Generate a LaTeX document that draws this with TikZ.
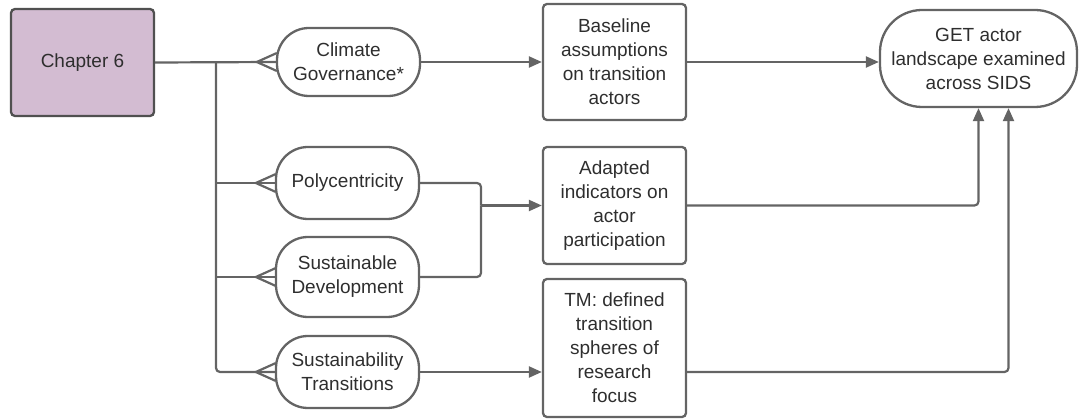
\documentclass[tikz,border=0pt]{standalone}
\usepackage{fontspec}
\setmainfont{Liberation Sans}
\usetikzlibrary{arrows.meta,calc}
\definecolor{ln}{HTML}{646464}
\definecolor{tx}{HTML}{2E2E2E}
\definecolor{chfill}{HTML}{D3BCD2}
\begin{document}
\begin{tikzpicture}[x=1pt,y=-1pt,
  base/.style={draw=ln,line width=2.3pt,text=tx,align=center,inner sep=2pt,
    font=\fontsize{19}{24}\selectfont},
  pill/.style={base,rounded corners=32pt,minimum width=143pt},
  boxn/.style={base,rounded corners=4pt,minimum width=143pt},
  conn/.style={draw=ln,line width=2.2pt},
  arr/.style={conn,-{Triangle[length=13pt,width=11pt]}},
  crow/.style={conn}]
\useasboundingbox (0,0) rectangle (1082,419);
\node[boxn,fill=chfill,draw=ln!80!black,minimum height=107pt] (ch) at (82.5,62.5) {Chapter 6};
\node[pill,minimum height=68pt] (cg) at (348.5,62) {Climate\\Governance*};
\node[pill,minimum height=72pt] (poly) at (347.5,183) {Polycentricity};
\node[pill,minimum height=80pt] (sd) at (347.5,277) {Sustainable\\Development};
\node[pill,minimum height=72pt] (st) at (347.5,372) {Sustainability\\Transitions};
\node[boxn,minimum height=116pt] (bl) at (614.5,62) {Baseline\\assumptions\\on transition\\actors};
\node[boxn,minimum height=117pt] (ad) at (614.5,205.5) {Adapted\\indicators on\\actor\\participation};
\node[boxn,minimum height=138pt] (tm) at (614.5,348) {TM: defined\\transition\\spheres of\\research\\focus};
\node[pill,rounded corners=42pt,minimum width=197pt,minimum height=97pt] (get) at (978.5,58.5) {GET actor\\landscape examined\\across SIDS};
% trunk
\coordinate (j0) at (216,62);
\coordinate (j1) at (216,183);
\coordinate (j2) at (216,277);
\coordinate (j3) at (216,372);
\draw[conn] (ch.east) -- (cg.west);
\draw[conn,rounded corners=4pt] (j0) -- (j3) -- (st.west);
\draw[conn] (j1) -- (poly.west);
\draw[conn] (j2) -- (sd.west);
% crow's feet
\foreach \n in {cg,poly,sd,st}{
  \draw[crow] ($(\n.west)+(-19,0)$) -- ($(\n.west)+(1,-9)$);
  \draw[crow] ($(\n.west)+(-19,0)$) -- ($(\n.west)+(1,9)$);
}
% to boxes
\draw[arr] (cg.east) -- (bl.west);
\coordinate (m) at (481,205.5);
\draw[conn,rounded corners=4pt] (poly.east) -- (poly.east -| m) -- (m);
\draw[conn,rounded corners=4pt] (sd.east) -- (sd.east -| m) -- (m);
\draw[arr] (m) -- (ad.west);
\draw[arr] (st.east) -- (st.east -| tm.west);
% to GET
\coordinate (g1) at ($(get.south)+(0,0)$);
\coordinate (g2) at ($(get.south)+(30,0)$);
\draw[arr] (bl.east) -- (bl.east -| get.west);
\draw[arr,rounded corners=4pt] (ad.east) -| (g1);
\draw[arr,rounded corners=4pt] (st.east -| tm.east) -| (g2);
\end{tikzpicture}
\end{document}
